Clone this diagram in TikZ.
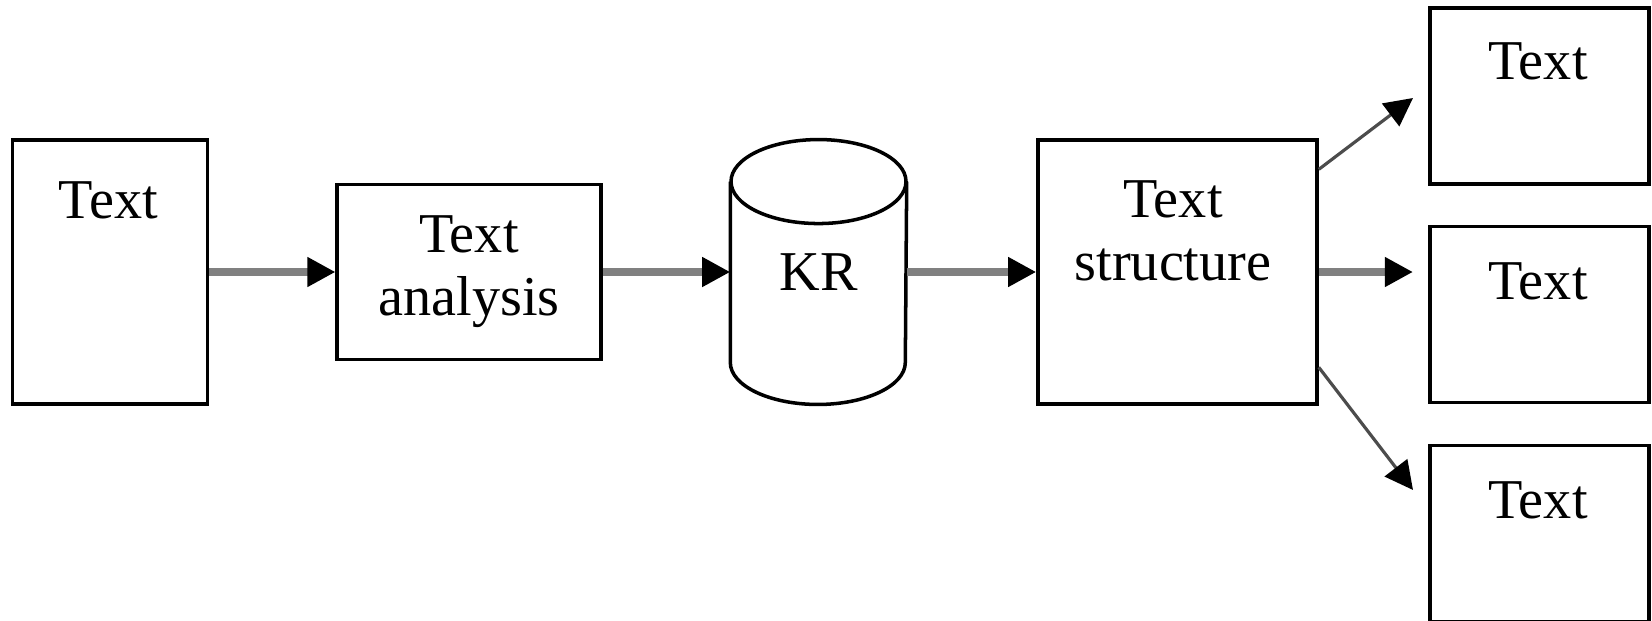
\documentclass[tikz,border=0pt]{standalone}
\usepackage{fontspec}
\setmainfont{Liberation Serif}
\usetikzlibrary{arrows.meta}

\tikzset{
    lbl/.style={font=\fontsize{16}{18}\selectfont, align=center},
    box/.style={draw, line width=1pt, inner sep=0pt},
    flow/.style={draw=gray, line width=2pt, -{Triangle[length=8pt,width=8pt,black]}},
    fork/.style={draw=black!70, line width=0.9pt, -{Triangle[length=8pt,width=8pt,black]}}
}

\begin{document}
\begin{tikzpicture}
            \clip (0,0) rectangle (16.52,6.2);
            % Entrada
            \node at (1.10,3.48) (src) [box, minimum width=1.95cm, minimum height=2.635cm] {};
            \node at (1.085,4.20) (srctxt) [lbl] {Text};
            % Analise
            \node at (4.69,3.48) (ana) [box, lbl, minimum width=2.635cm, minimum height=1.75cm] {Text\\analysis};
            % Base de conhecimento (cilindro)
            \node at (8.185,3.48) (kr) [lbl, inner sep=0pt, minimum width=1.75cm, minimum height=2.635cm] {KR};
            \draw [line width=1pt] ([yshift=-0.42cm]kr.north west) -- ([yshift=0.42cm]kr.south west)
                arc[start angle=180, end angle=360, x radius=0.875cm, y radius=0.42cm]
                -- ([yshift=-0.42cm]kr.north east);
            \draw [line width=1pt] ([yshift=-0.42cm]kr.north) ellipse [x radius=0.875cm, y radius=0.42cm];
            % Estrutura
            \node at (11.775,3.48) (struct) [box, minimum width=2.79cm, minimum height=2.635cm] {};
            \node at (11.73,3.89) (structtxt) [lbl] {Text\\structure};
            % Saidas
            \node at (15.395,5.238) (out1) [box, minimum width=2.19cm, minimum height=1.76cm] {};
            \node at (15.38,5.59) (out1txt) [lbl] {Text};
            \node at (15.395,3.055) (out2) [box, minimum width=2.19cm, minimum height=1.76cm] {};
            \node at (15.38,3.39) (out2txt) [lbl] {Text};
            \node at (15.395,0.863) (out3) [box, minimum width=2.19cm, minimum height=1.76cm] {};
            \node at (15.38,1.20) (out3txt) [lbl] {Text};
            \coordinate (tip1) at (14.13,5.22);
            \coordinate (tip2) at (14.13,3.48);
            \coordinate (tip3) at (14.13,1.30);
            \draw [flow] (src) -- (ana);
            \draw [flow] (ana) -- (kr);
            \draw [flow] (kr) -- (struct);
            \draw [fork] (struct.36) -- (tip1);
            \draw [flow] (struct) -- (tip2);
            \draw [fork] (struct.-34) -- (tip3);
        \end{tikzpicture}
\end{document}
